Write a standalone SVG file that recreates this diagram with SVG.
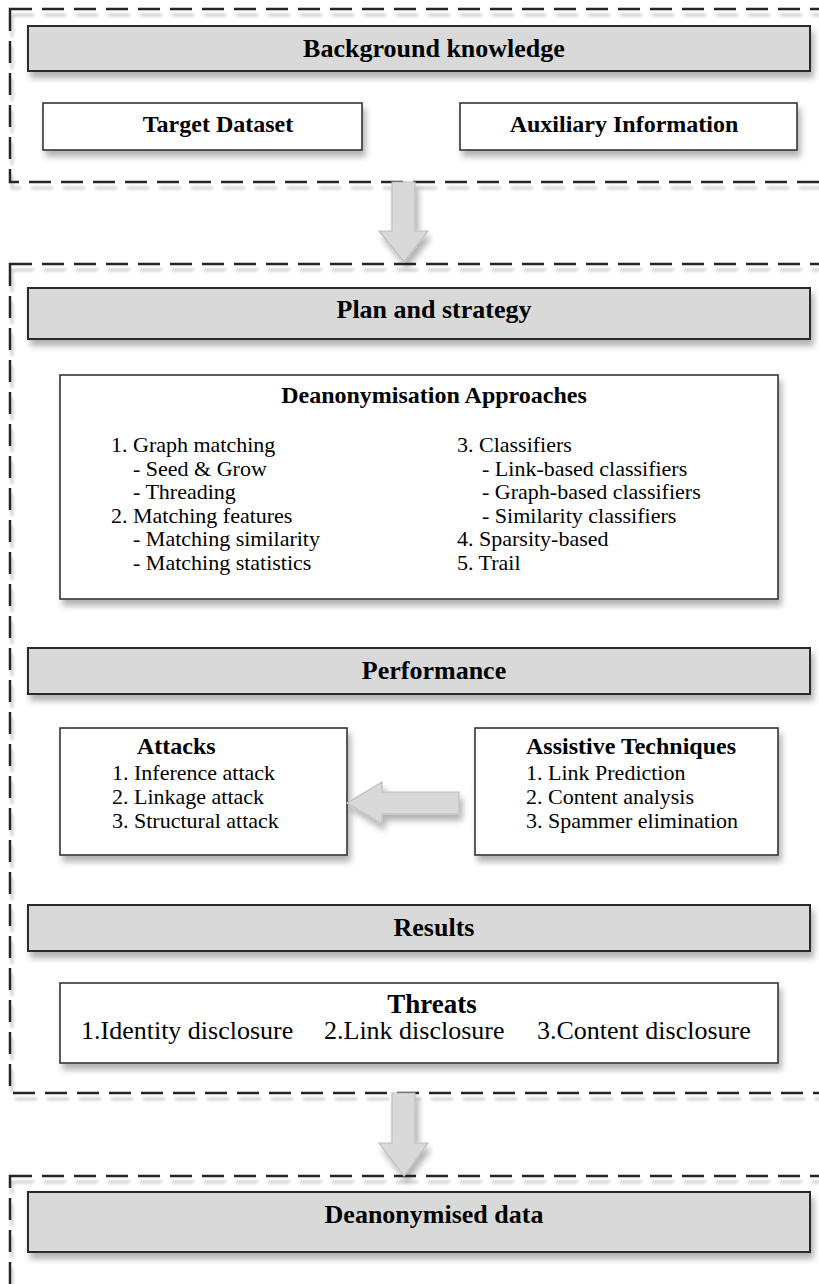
<svg xmlns="http://www.w3.org/2000/svg" width="819" height="1284" viewBox="0 0 819 1284">
<defs>
<filter id="sh" x="-5%" y="-20%" width="115%" height="160%">
<feDropShadow dx="3" dy="6" stdDeviation="3" flood-color="#000" flood-opacity="0.3"/>
</filter>
<filter id="dsh" x="-5%" y="-5%" width="115%" height="115%">
<feDropShadow dx="2" dy="6" stdDeviation="1.5" flood-color="#000" flood-opacity="0.22"/>
</filter>
<style>
.dash{fill:none;stroke:#262626;stroke-width:2.5;stroke-dasharray:22 10;filter:url(#dsh)}
.hdr{fill:#d9d9d9;stroke:#2b2b2b;stroke-width:2;filter:url(#sh)}
.box{fill:#ffffff;stroke:#333333;stroke-width:1.6;filter:url(#sh)}
.arr{fill:#d9d9d9;stroke:#bdbdbd;stroke-width:1.2;filter:url(#sh)}
text{font-family:"Liberation Serif","Times New Roman",serif;fill:#000}
.h{font-size:26px;font-weight:bold;text-anchor:middle}
.t{font-size:24px;font-weight:bold}
.b{font-size:22px}
.c{text-anchor:middle}
.tl{font-size:26px}
</style>
</defs>

<g id="frame-background">
<rect class="dash" x="10" y="9" width="830" height="173"/>
</g>
<g id="frame-plan">
<rect class="dash" x="10" y="264" width="830" height="829"/>
</g>
<g id="frame-result">
<rect class="dash" x="10" y="1176" width="830" height="200"/>
</g>

<g id="background-knowledge">
<rect class="hdr" x="28" y="26" width="782" height="45"/>
<text class="h" x="434" y="57">Background knowledge</text>
</g>
<g id="target-dataset">
<rect class="box" x="43" y="103" width="319" height="47"/>
<text class="t c" x="218" y="132">Target Dataset</text>
</g>
<g id="auxiliary-information">
<rect class="box" x="460" y="103" width="337" height="47"/>
<text class="t c" x="624" y="132">Auxiliary Information</text>
</g>

<g id="plan-and-strategy">
<rect class="hdr" x="28" y="288" width="782" height="51"/>
<text class="h" x="434" y="318">Plan and strategy</text>
</g>

<g id="deanonymisation-approaches">
<rect class="box" x="60" y="375" width="718" height="224"/>
<text class="t c" x="434" y="403">Deanonymisation Approaches</text>
<text class="b" x="111" y="452">1. Graph matching</text>
<text class="b" x="133" y="475.5">- Seed &amp; Grow</text>
<text class="b" x="133" y="499">- Threading</text>
<text class="b" x="111" y="522.5">2. Matching features</text>
<text class="b" x="133" y="546">- Matching similarity</text>
<text class="b" x="133" y="570">- Matching statistics</text>
<text class="b" x="457" y="452">3. Classifiers</text>
<text class="b" x="482" y="475.5">- Link-based classifiers</text>
<text class="b" x="482" y="499">- Graph-based classifiers</text>
<text class="b" x="482" y="522.5">- Similarity classifiers</text>
<text class="b" x="457" y="546">4. Sparsity-based</text>
<text class="b" x="457" y="570">5. Trail</text>
</g>

<g id="performance">
<rect class="hdr" x="28" y="648" width="782" height="46"/>
<text class="h" x="434" y="679">Performance</text>
</g>

<g id="attacks">
<rect class="box" x="60" y="728" width="287" height="127"/>
<text class="t" x="137" y="754">Attacks</text>
<text class="b" x="112" y="780">1. Inference attack</text>
<text class="b" x="112" y="804">2. Linkage attack</text>
<text class="b" x="112" y="828">3. Structural attack</text>
</g>

<g id="assistive-techniques">
<rect class="box" x="475" y="728" width="303" height="127"/>
<text class="t" x="526" y="754">Assistive Techniques</text>
<text class="b" x="526" y="780">1. Link Prediction</text>
<text class="b" x="526" y="804">2. Content analysis</text>
<text class="b" x="526" y="828">3. Spammer elimination</text>
</g>

<g id="results">
<rect class="hdr" x="28" y="905" width="782" height="46"/>
<text class="h" x="434" y="936">Results</text>
</g>

<g id="threats">
<rect class="box" x="60" y="983" width="718" height="80"/>
<text class="c" x="432" y="1013" style="font-size:27px;font-weight:bold">Threats</text>
<text class="tl" x="81" y="1039">1.Identity disclosure</text>
<text class="tl" x="324" y="1039">2.Link disclosure</text>
<text class="tl" x="537" y="1039">3.Content disclosure</text>
</g>

<g id="deanonymised-data">
<rect class="hdr" x="28" y="1192" width="782" height="60"/>
<text class="h" x="434" y="1223">Deanonymised data</text>
</g>

<g id="connectors">
<path class="arr" d="M392,182 H415 V231 H428 L404,262 L379,231 H392 Z"/>
<path class="arr" d="M459,792 V814 H382 V824 L347,803 L382,782 V792 Z"/>
<path class="arr" d="M392,1093 H415 V1143 H428 L404,1176 L379,1143 H392 Z"/>
</g>
</svg>
